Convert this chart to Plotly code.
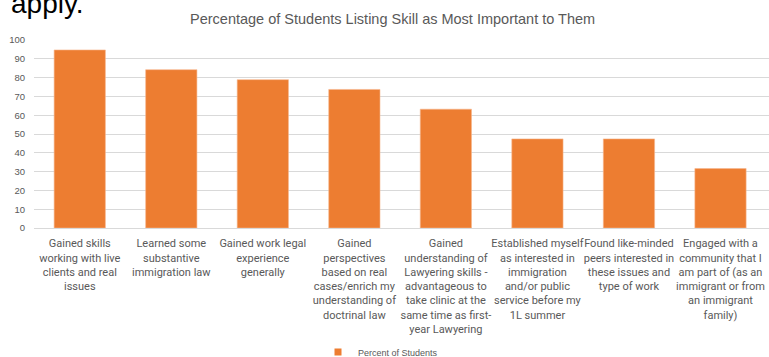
import plotly.graph_objects as go

categories = [
    "Gained skills<br>working with live<br>clients and real<br>issues",
    "Learned some<br>substantive<br>immigration law",
    "Gained work legal<br>experience<br>generally",
    "Gained<br>perspectives<br>based on real<br>cases/enrich my<br>understanding of<br>doctrinal law",
    "Gained<br>understanding of<br>Lawyering skills -<br>advantageous to<br>take clinic at the<br>same time as first-<br>year Lawyering",
    "Established myself<br>as interested in<br>immigration<br>and/or public<br>service before my<br>1L summer",
    "Found like-minded<br>peers interested in<br>these issues and<br>type of work",
    "Engaged with a<br>community that I<br>am part of (as an<br>immigrant or from<br>an immigrant<br>family)",
]
values = [94.7, 84.2, 78.9, 73.7, 63.2, 47.4, 47.4, 31.6]
series_name = "Percent of Students"
title = "Percentage of Students Listing Skill as Most Important to Them"
y_ticks = [0, 10, 20, 30, 40, 50, 60, 70, 80, 90, 100]

gray = "#595959"
orange = "#ED7D31"
label_font = "Roboto, Liberation Sans, sans-serif"

fig = go.Figure()
fig.add_trace(go.Bar(
    x=categories, y=values, name=series_name,
    marker=dict(color=orange, line=dict(color="#F6B78F", width=0.6)),
    showlegend=False,
))
# legend entry (small square like the original)
fig.add_trace(go.Scatter(
    x=[None], y=[None], mode="markers", name=series_name,
    marker=dict(symbol="square", size=7, color=orange),
    showlegend=True,
))

fig.update_layout(
    width=769, height=357,
    margin=dict(l=34, r=0, t=40, b=129, autoexpand=False),
    paper_bgcolor="white", plot_bgcolor="white",
    bargap=0.44,
    font=dict(family=label_font, color=gray),
    showlegend=True,
    legend=dict(orientation="h", x=(318 - 34) / 735, xanchor="left", xref="paper",
                y=-(352 - 228) / 188, yanchor="middle", yref="paper",
                font=dict(size=9, color=gray, family="Liberation Sans, sans-serif"),
                itemwidth=30, tracegroupgap=0),
    xaxis=dict(range=[-0.5, 7.53], showgrid=False, showline=True,
               linecolor="#d9d9d9", linewidth=1, ticks="",
               tickfont=dict(size=11, color=gray, family=label_font),
               tickangle=0, ticklabelstandoff=5, automargin=False),
    yaxis=dict(range=[0, 100], tickvals=y_ticks, showgrid=True,
               gridcolor="#d9d9d9", gridwidth=1, zeroline=False,
               tickfont=dict(size=9.5, color=gray, family="Liberation Sans, sans-serif"),
               ticklabelstandoff=8, automargin=False),
    annotations=[
        dict(text=title, xref="paper", yref="paper", x=(392 - 34) / 735,
             y=1, yshift=21, xanchor="center", yanchor="middle", showarrow=False,
             font=dict(size=14.5, color=gray, family="Liberation Sans, sans-serif")),
        dict(text="apply.", xref="paper", yref="paper", x=-25 / 735, y=1,
             yshift=37, xanchor="left", yanchor="middle", showarrow=False,
             font=dict(size=28, color="#000000", family="Liberation Sans, sans-serif")),
    ],
)

fig.write_html("out.html")
